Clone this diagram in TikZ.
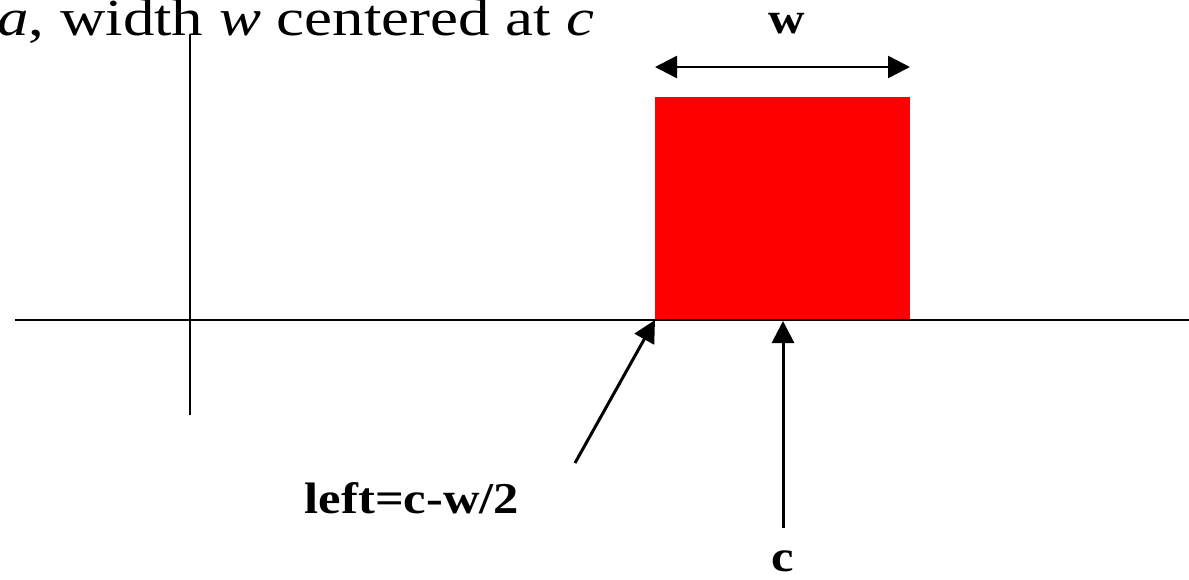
\documentclass[tikz,border=0pt]{standalone}
\usepackage{fontspec}
\setmainfont{Liberation Serif}
\usetikzlibrary{arrows.meta}
\begin{document}
\begin{tikzpicture}[x=1pt,y=-1pt,
  axis/.style={line width=2pt,black},
  ptr/.style={line width=3pt,-{Triangle[length=22pt,width=22pt]}},
  dim/.style={line width=2.5pt,{Triangle[length=22pt,width=22pt]}-{Triangle[length=22pt,width=22pt]}},
  blabel/.style={font=\fontsize{44}{48}\selectfont\bfseries,inner sep=0pt,xscale=1.15}]
\useasboundingbox (0,0) rectangle (1189,579);
\clip (0,0) rectangle (1189,579);
\node[anchor=base west,inner sep=0pt,xscale=1.21,font=\fontsize{52}{56}\selectfont] (title) at (-3,35) {\textit{a}, width \textit{w} centered at \textit{c}};
\node[fill=red,minimum width=255pt,minimum height=223pt,inner sep=0pt,anchor=south west] (box) at (655,320) {};
\coordinate (xl) at (15,320);
\coordinate (xr) at (1189,320);
\coordinate (yt) at (190,35);
\coordinate (yb) at (190,415);
\draw[axis] (xl) -- (xr);
\draw[axis] (yt) -- (yb);
\coordinate (wl) at (655,67);
\coordinate (wr) at (910,67);
\draw[dim] (wl) -- (wr);
\node[blabel,anchor=base] (wlab) at (787,33) {w};
\coordinate (ls) at (575,463);
\coordinate (cs) at (783,528);
\coordinate (ce) at (783,321);
\draw[ptr] (ls) -- (box.south west);
\draw[ptr] (cs) -- (ce);
\node[blabel,anchor=base] (leftlab) at (412,513) {left=c-w/2};
\node[blabel,anchor=base] (clab) at (783,571) {c};
\end{tikzpicture}
\end{document}
